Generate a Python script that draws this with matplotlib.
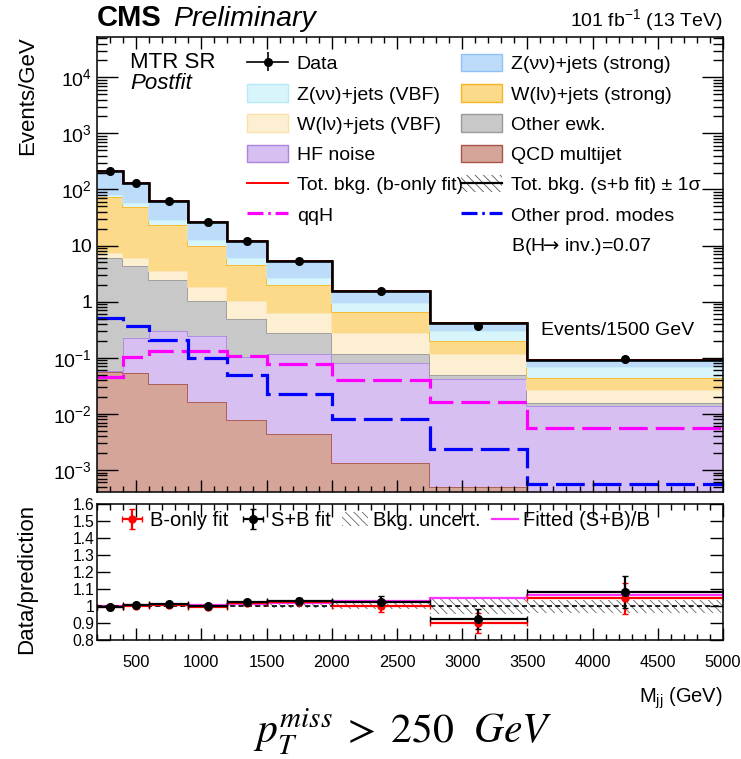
import numpy as np
import matplotlib
matplotlib.use('Agg')
import matplotlib.pyplot as plt
from matplotlib.patches import Patch
from matplotlib.lines import Line2D
from matplotlib.ticker import LogLocator, MultipleLocator, FuncFormatter, NullFormatter, NullLocator

plt.rcParams['font.family'] = ['Liberation Sans', 'DejaVu Sans']
plt.rcParams['mathtext.fontset'] = 'custom'
plt.rcParams['mathtext.rm'] = 'Liberation Sans'
plt.rcParams['mathtext.it'] = 'Liberation Sans:italic'
plt.rcParams['hatch.linewidth'] = 0.6

# bins in M_jj (GeV)
edges = np.array([200, 400, 600, 900, 1200, 1500, 2000, 2750, 3500, 5000])

# postfit background components (Events/GeV), stacked bottom -> top
qcd = [0.056, 0.053, 0.034, 0.0161, 0.0078, 0.0043, 0.00132, 0.00049, 0.0001]
hf_noise = [0.002, 0.175, 0.27, 0.229, 0.094, 0.111, 0.0805, 0.0408, 0.0137]
other_ewk = [5.84, 4.10, 2.14, 0.795, 0.383, 0.158, 0.035, 0.008, 0.0017]
w_vbf = [1.4, 1.57, 1.13, 0.81, 0.535, 0.348, 0.156, 0.0677, 0.0112]
w_strong = [67.2, 43.4, 19.7, 8.0, 3.49, 1.37, 0.374, 0.085, 0.0163]
z_vbf = [4.5, 7.7, 5.2, 2.66, 1.43, 0.62, 0.289, 0.098, 0.0246]
z_strong = [135, 72, 33.9, 14.2, 6.26, 2.70, 0.594, 0.112, 0.0238]

bonly_total = [215, 130, 62.8, 26.8, 12.1, 5.25, 1.54, 0.416, 0.090]
bkg_rel_unc = [0.005, 0.005, 0.006, 0.007, 0.008, 0.010, 0.018, 0.046, 0.038]

qqh = [0.045, 0.102, 0.134, 0.132, 0.108, 0.0766, 0.040, 0.0165, 0.0055]
other_prod = [0.519, 0.373, 0.207, 0.098, 0.0493, 0.0226, 0.0081, 0.00234, 0.00056]

data = [214, 129, 62.4, 26.7, 12.2, 5.31, 1.53, 0.374, 0.094]
data_err = [2.5, 1.5, 0.8, 0.4, 0.25, 0.12, 0.05, 0.022, 0.009]

# ratio panel
ratio_b = [0.995, 0.998, 1.004, 0.995, 1.018, 1.022, 1.002, 0.900, 1.045]
ratio_b_err = [0.008, 0.008, 0.009, 0.010, 0.012, 0.014, 0.035, 0.060, 0.090]
ratio_sb = [0.997, 1.005, 1.013, 0.998, 1.025, 1.031, 1.022, 0.925, 1.085]
ratio_sb_err = [0.008, 0.008, 0.009, 0.010, 0.012, 0.014, 0.035, 0.060, 0.095]
fitted_sb_over_b = [1.003, 1.004, 1.006, 1.009, 1.013, 1.019, 1.032, 1.046, 1.066]

centers = 0.5 * (edges[:-1] + edges[1:])
halfw = 0.5 * (edges[1:] - edges[:-1])

fig = plt.figure(figsize=(7.41, 7.59), dpi=100)
ax = fig.add_axes([0.1309, 0.3522, 0.8448, 0.5995])
ax2 = fig.add_axes([0.1309, 0.1568, 0.8448, 0.1788])

stack = [
    (qcd, '#d5a59a', '#a9544a'),
    (hf_noise, '#d7bff1', '#a985de'),
    (other_ewk, '#c8c8c8', '#9a9a9a'),
    (w_vbf, '#fdf0d2', '#f9e3b0'),
    (w_strong, '#fdd98a', '#f7b526'),
    (z_vbf, '#d9f5fc', '#c3eef9'),
    (z_strong, '#bcdcfa', '#9ccbf4'),
]
bottom = np.full(len(centers), 1e-6)
for vals, fc, ec in stack:
    top = bottom + np.array(vals)
    ax.stairs(top, edges, baseline=bottom, fill=True, color=fc, lw=0)
    ax.stairs(top, edges, baseline=None, color=ec, lw=1.2)
    bottom = top
total = bottom

# s+b uncertainty band
unc = total * np.array(bkg_rel_unc)
ax.stairs(total + unc, edges, baseline=total - unc, fill=True, facecolor='none',
          edgecolor='#555555', hatch='\\\\\\\\', lw=0)
ax.stairs(bonly_total, edges, baseline=None, color='red', lw=1.4)
ax.stairs(total, edges, baseline=None, color='black', lw=1.9)

ax.stairs(qqh, edges, baseline=None, color='#ff00ff', lw=2.3, linestyle=(0, (9, 2.5)))
ax.stairs(other_prod, edges, baseline=None, color='#0000ff', lw=2.3, linestyle=(0, (9, 2.5)))

eb = ax.errorbar(centers, data, yerr=data_err, fmt='o', color='black', ms=5.5, lw=1.2, capsize=0)

ax.set_yscale('log')
ax.set_xlim(200, 5000)
ax.set_ylim(4.1e-4, 5.3e4)


def log_fmt(v, pos):
    n = int(round(np.log10(v)))
    if n == 0:
        return '1'
    if n == 1:
        return '10'
    return r'$10^{%d}$' % n


ax.yaxis.set_major_locator(LogLocator(base=10, numticks=20))
ax.yaxis.set_minor_locator(LogLocator(base=10, subs=np.arange(2, 10), numticks=20))
ax.yaxis.set_major_formatter(FuncFormatter(log_fmt))
ax.yaxis.set_minor_formatter(NullFormatter())
ax.xaxis.set_major_locator(MultipleLocator(500))
ax.xaxis.set_minor_locator(MultipleLocator(100))
ax.xaxis.set_major_formatter(NullFormatter())
ax.tick_params(axis='both', which='both', direction='in', top=True, right=True, labelsize=14)
ax.tick_params(axis='y', which='major', length=15, width=1)
ax.tick_params(axis='y', which='minor', length=7.5, width=1)
ax.tick_params(axis='x', which='major', length=8.5, width=1)
ax.tick_params(axis='x', which='minor', length=4.5, width=1)
for s in ax.spines.values():
    s.set_linewidth(1.1)

ax.set_ylabel('Events/GeV', fontsize=16, loc='top')
ax.yaxis.set_label_coords(-0.094, 1.0)

ax.text(0.053, 0.944, 'MTR SR', transform=ax.transAxes, fontsize=16, va='center')
ax.text(0.053, 0.898, 'Postfit', transform=ax.transAxes, fontsize=16, va='center', style='italic')
ax.text(0.832, 0.355, 'Events/1500 GeV', transform=ax.transAxes, fontsize=14, ha='center', va='center')

# legend
none = Line2D([], [], color='none')
h_data = (Line2D([], [], color='black', lw=1.2), eb)
h_totsb = (Patch(facecolor='none', edgecolor='#555555', hatch='\\\\\\\\', lw=0),
           Line2D([], [], color='black', lw=1.6))
handles = [
    h_data,
    Patch(facecolor='#d9f5fc', edgecolor='#b5eaf8'),
    Patch(facecolor='#fdf0d2', edgecolor='#f8e0a6'),
    Patch(facecolor='#d7bff1', edgecolor='#a985de'),
    Line2D([], [], color='red', lw=1.4),
    Line2D([], [], color='#ff00ff', lw=2.3, linestyle=(0, (5, 1.5, 0.8, 1.5))),
    none,
    Patch(facecolor='#bcdcfa', edgecolor='#8fc2f2'),
    Patch(facecolor='#fdd98a', edgecolor='#f7b526'),
    Patch(facecolor='#c8c8c8', edgecolor='#9a9a9a'),
    Patch(facecolor='#d5a59a', edgecolor='#a9544a'),
    h_totsb,
    Line2D([], [], color='#0000ff', lw=2.3, linestyle=(0, (5, 1.5, 0.8, 1.5))),
    none,
]
labels = [
    'Data', 'Z(νν)+jets (VBF)', 'W(lν)+jets (VBF)', 'HF noise',
    'Tot. bkg. (b-only fit)', 'qqH', '',
    'Z(νν)+jets (strong)', 'W(lν)+jets (strong)', 'Other ewk.', 'QCD multijet',
    'Tot. bkg. (s+b fit) ± 1σ', 'Other prod. modes', r'B(H$\!\!\rightarrow\!$ inv.)=0.07',
]
leg = ax.legend(handles, labels, ncol=2, loc='upper left', bbox_to_anchor=(0.24, 0.962),
                frameon=False, fontsize=14, handlelength=2.1, handleheight=1.0,
                labelspacing=0.56, columnspacing=-0.1, handletextpad=0.45, borderpad=0,
                borderaxespad=0)
leg.get_texts()[-1].set_math_fontfamily('dejavusans')

# ratio panel
runc = np.array(bkg_rel_unc)
ax2.stairs(1 + runc, edges, baseline=1 - runc, fill=True, facecolor='none',
           edgecolor='#666666', hatch='\\\\\\\\', lw=0)
ax2.axhline(1.0, color='black', ls='--', lw=1.2, dashes=(3, 2))
ax2.stairs(fitted_sb_over_b, edges, baseline=None, color='#ff33ff', lw=1.6)
eb_b = ax2.errorbar(centers, ratio_b, yerr=ratio_b_err, xerr=halfw, fmt='o', color='red',
                    ms=5, lw=1.6, capsize=2)
eb_sb = ax2.errorbar(centers, ratio_sb, yerr=ratio_sb_err, xerr=halfw, fmt='o', color='black',
                     ms=5.5, lw=1.6, capsize=2)
ax2.set_xlim(200, 5000)
ax2.set_ylim(0.8, 1.6)
ax2.yaxis.set_major_locator(MultipleLocator(0.1))
ax2.yaxis.set_minor_locator(NullLocator())
ax2.yaxis.set_major_formatter(FuncFormatter(lambda v, p: '1' if abs(v - 1) < 1e-6 else '%.1f' % v))
ax2.xaxis.set_major_locator(MultipleLocator(500))
ax2.xaxis.set_minor_locator(MultipleLocator(100))
ax2.xaxis.set_major_formatter(FuncFormatter(lambda v, p: '' if v < 500 else '%d' % v))
ax2.tick_params(axis='both', which='both', direction='in', top=True, right=True)
ax2.tick_params(axis='y', which='major', length=9.5, width=1, pad=2, labelsize=11.3)
ax2.tick_params(axis='x', which='major', length=9, width=1, pad=11, labelsize=11.8)
ax2.tick_params(axis='x', which='minor', length=4.5, width=1)
for s in ax2.spines.values():
    s.set_linewidth(1.1)
ax2.set_ylabel('Data/prediction', fontsize=16, loc='top')
ax2.yaxis.set_label_coords(-0.096, 1.0)

ax2.legend([eb_b, eb_sb,
            Patch(facecolor='none', edgecolor='#666666', hatch='\\\\\\\\', lw=0),
            Line2D([], [], color='#ff33ff', lw=1.6)],
           ['B-only fit', 'S+B fit', 'Bkg. uncert.', 'Fitted (S+B)/B'],
           ncol=4, loc='center left', bbox_to_anchor=(0.035, 0.877), frameon=False,
           fontsize=14.5, handlelength=1.3, handletextpad=0.25, columnspacing=0.55,
           borderpad=0, borderaxespad=0)

fig.text(0.9757, 1 - 698 / 759, r'M$_{\rm jj}$ (GeV)', ha='right', va='center', fontsize=14.5)

# header
fig.text(0.1309, 1 - 26 / 759, 'CMS', fontsize=21, fontweight='bold', va='baseline')
fig.text(0.2335, 1 - 26 / 759, 'Preliminary', fontsize=20.5, style='italic', va='baseline')
fig.text(0.9757, 1 - 26 / 759, r'101 fb$^{-1}$ (13 TeV)', fontsize=14, ha='right', va='baseline')

fig.text(0.544, 1 - 732 / 759, r'$p_T^{miss} \;>\; 250\ \ GeV$', fontsize=30, ha='center',
         va='center', math_fontfamily='stix')

fig.savefig('out.png', dpi=100)
